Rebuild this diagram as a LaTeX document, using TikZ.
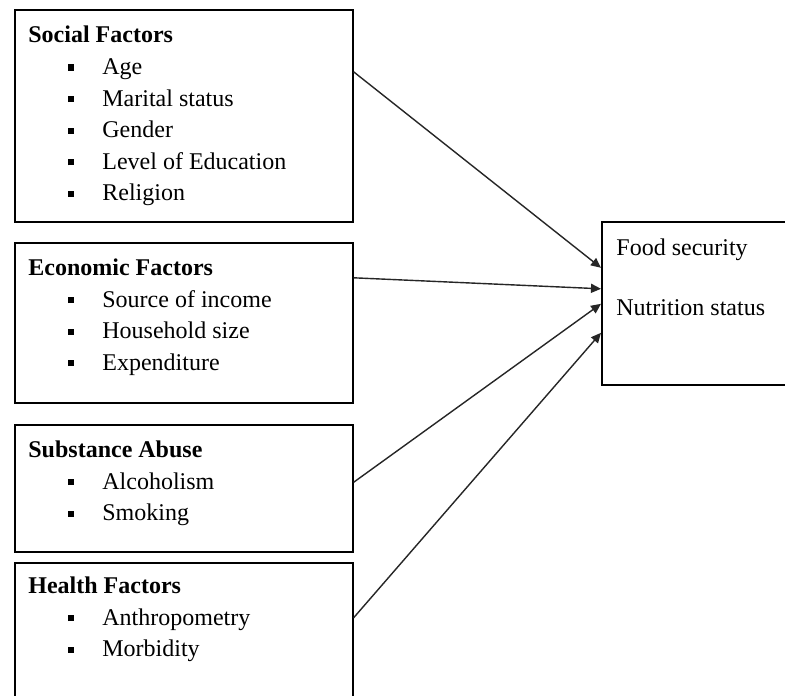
\documentclass[tikz,border=0pt]{standalone}
\usepackage{fontspec}
\setmainfont{Liberation Serif}
\usetikzlibrary{calc,arrows.meta}

\tikzset{
  factorbox/.style={draw,line width=0.8pt,minimum width=169pt,anchor=north west,inner sep=0pt},
  factortext/.style={anchor=north west,align=left,inner sep=0pt,font=\fontsize{12}{15.8}\selectfont},
  link/.style={->,line width=0.7pt,draw=black!85},
}
% heading line and bulleted item of a factor list
\newcommand{\head}[1]{\rule{0pt}{8.5pt}\textbf{#1}}
\newcommand{\itm}[1]{\\\hspace*{20pt}\rule[2pt]{3pt}{3pt}\hspace*{14pt}#1}

\begin{document}
\begin{tikzpicture}[x=0.5pt,y=-0.5pt,>={Triangle[length=5pt,width=4.5pt]}]
  \clip (0,0) rectangle (785,695);
  \fill[white] (0,0) rectangle (785,695);

  % the four groups of factors
  \node[factorbox,minimum height=106pt] (social) at (14,9) {};
  \node[factorbox,minimum height=80pt] (economic) at (14,242) {};
  \node[factorbox,minimum height=63.5pt] (substance) at (14,424) {};
  \node[factorbox,minimum height=70pt] (health) at (14,562) {};
  % outcome box
  \node[factorbox,minimum width=95pt,minimum height=81.5pt] (outcome) at (601,221) {};

  \node[factortext] (socialtxt) at ($(social.north west)+(14,16.5)$)
    {\head{Social Factors}\itm{Age}\itm{Marital status}\itm{Gender}\itm{Level of Education}\itm{Religion}};
  \node[factortext] (economictxt) at ($(economic.north west)+(14,16)$)
    {\head{Economic Factors}\itm{Source of income}\itm{Household size}\itm{Expenditure}};
  \node[factortext] (substancetxt) at ($(substance.north west)+(14,16)$)
    {\head{Substance Abuse}\itm{Alcoholism}\itm{Smoking}};
  \node[factortext] (healthtxt) at ($(health.north west)+(14,14)$)
    {\head{Health Factors}\itm{Anthropometry}\itm{Morbidity}};
  \node[factortext] (outcometxt) at ($(outcome.north west)+(15,17)$)
    {\rule{0pt}{8.5pt}Food security\\[14.2pt]Nutrition status};

  \foreach \src/\dy/\dz in {social/-44/-35.5,economic/-45/-14.5,substance/-6/0.5,health/-15/29.5}
    \draw[link] ($(\src.east)+(0,\dy)$) -- ($(outcome.west)+(0,\dz)$);
\end{tikzpicture}
\end{document}
